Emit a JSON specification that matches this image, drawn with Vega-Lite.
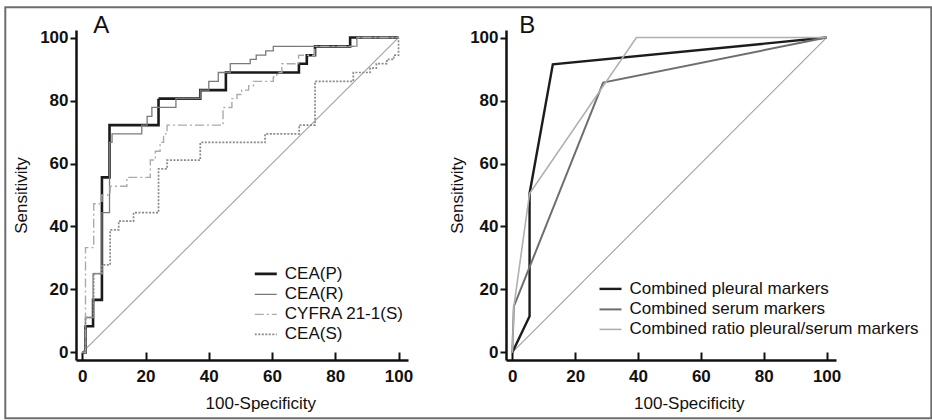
{
  "$schema": "https://vega.github.io/schema/vega-lite/v6.json",
  "background": "white",
  "padding": {"left": 4, "top": 6, "right": 0, "bottom": 0},
  "spacing": 98,
  "bounds": "flush",
  "resolve": {
    "scale": {"color": "independent", "strokeDash": "independent", "strokeWidth": "independent"},
    "legend": {"color": "independent", "strokeDash": "independent", "strokeWidth": "independent"}
  },
  "datasets": {
    "diag": [{"fpr": 0, "sens": 0}, {"fpr": 100, "sens": 100}],
    "one": [{"n": 1}],
    "rocA": [
      {"series": "CEA(P)", "fpr": 0, "sens": 0},
      {"series": "CEA(P)", "fpr": 1, "sens": 8.3},
      {"series": "CEA(P)", "fpr": 3.4, "sens": 16.7},
      {"series": "CEA(P)", "fpr": 6.2, "sens": 55.6},
      {"series": "CEA(P)", "fpr": 8.6, "sens": 72.2},
      {"series": "CEA(P)", "fpr": 24.1, "sens": 80.6},
      {"series": "CEA(P)", "fpr": 37.3, "sens": 83.3},
      {"series": "CEA(P)", "fpr": 45.4, "sens": 88.9},
      {"series": "CEA(P)", "fpr": 68.5, "sens": 91.7},
      {"series": "CEA(P)", "fpr": 71, "sens": 94.4},
      {"series": "CEA(P)", "fpr": 73.6, "sens": 97.2},
      {"series": "CEA(P)", "fpr": 84.7, "sens": 100},
      {"series": "CEA(P)", "fpr": 100, "sens": 100},
      {"series": "CEA(R)", "fpr": 0, "sens": 0},
      {"series": "CEA(R)", "fpr": 1, "sens": 11.1},
      {"series": "CEA(R)", "fpr": 3.4, "sens": 25},
      {"series": "CEA(R)", "fpr": 6.2, "sens": 44.4},
      {"series": "CEA(R)", "fpr": 8.6, "sens": 66.7},
      {"series": "CEA(R)", "fpr": 9.4, "sens": 69.4},
      {"series": "CEA(R)", "fpr": 18.8, "sens": 72.2},
      {"series": "CEA(R)", "fpr": 20.5, "sens": 75},
      {"series": "CEA(R)", "fpr": 22, "sens": 77.8},
      {"series": "CEA(R)", "fpr": 29.6, "sens": 80.6},
      {"series": "CEA(R)", "fpr": 37.3, "sens": 83.3},
      {"series": "CEA(R)", "fpr": 40, "sens": 86.1},
      {"series": "CEA(R)", "fpr": 43, "sens": 88.9},
      {"series": "CEA(R)", "fpr": 46.8, "sens": 91.7},
      {"series": "CEA(R)", "fpr": 53.1, "sens": 93.1},
      {"series": "CEA(R)", "fpr": 55, "sens": 94.4},
      {"series": "CEA(R)", "fpr": 58, "sens": 95.8},
      {"series": "CEA(R)", "fpr": 60.4, "sens": 97.2},
      {"series": "CEA(R)", "fpr": 86.8, "sens": 100},
      {"series": "CEA(R)", "fpr": 100, "sens": 100},
      {"series": "CYFRA 21-1(S)", "fpr": 0, "sens": 0},
      {"series": "CYFRA 21-1(S)", "fpr": 1, "sens": 33.3},
      {"series": "CYFRA 21-1(S)", "fpr": 3.6, "sens": 47.2},
      {"series": "CYFRA 21-1(S)", "fpr": 6.2, "sens": 50},
      {"series": "CYFRA 21-1(S)", "fpr": 8.8, "sens": 52.8},
      {"series": "CYFRA 21-1(S)", "fpr": 14.1, "sens": 55.6},
      {"series": "CYFRA 21-1(S)", "fpr": 21.5, "sens": 61.1},
      {"series": "CYFRA 21-1(S)", "fpr": 23.1, "sens": 63.9},
      {"series": "CYFRA 21-1(S)", "fpr": 24.6, "sens": 66.7},
      {"series": "CYFRA 21-1(S)", "fpr": 25.7, "sens": 69.4},
      {"series": "CYFRA 21-1(S)", "fpr": 26.8, "sens": 72.2},
      {"series": "CYFRA 21-1(S)", "fpr": 44.5, "sens": 77.8},
      {"series": "CYFRA 21-1(S)", "fpr": 47.3, "sens": 80.6},
      {"series": "CYFRA 21-1(S)", "fpr": 48.9, "sens": 81.9},
      {"series": "CYFRA 21-1(S)", "fpr": 50.4, "sens": 83.3},
      {"series": "CYFRA 21-1(S)", "fpr": 52.6, "sens": 84.7},
      {"series": "CYFRA 21-1(S)", "fpr": 54.1, "sens": 86.1},
      {"series": "CYFRA 21-1(S)", "fpr": 60.4, "sens": 87.5},
      {"series": "CYFRA 21-1(S)", "fpr": 61.5, "sens": 88.9},
      {"series": "CYFRA 21-1(S)", "fpr": 63.1, "sens": 91.7},
      {"series": "CYFRA 21-1(S)", "fpr": 68.4, "sens": 94.4},
      {"series": "CYFRA 21-1(S)", "fpr": 73.5, "sens": 97.2},
      {"series": "CYFRA 21-1(S)", "fpr": 86.8, "sens": 100},
      {"series": "CYFRA 21-1(S)", "fpr": 100, "sens": 100},
      {"series": "CEA(S)", "fpr": 0, "sens": 0},
      {"series": "CEA(S)", "fpr": 1, "sens": 11.1},
      {"series": "CEA(S)", "fpr": 3.6, "sens": 25},
      {"series": "CEA(S)", "fpr": 6.2, "sens": 27.8},
      {"series": "CEA(S)", "fpr": 8.8, "sens": 38.9},
      {"series": "CEA(S)", "fpr": 11.5, "sens": 41.7},
      {"series": "CEA(S)", "fpr": 16.2, "sens": 44.4},
      {"series": "CEA(S)", "fpr": 24.1, "sens": 58.3},
      {"series": "CEA(S)", "fpr": 26.8, "sens": 61.1},
      {"series": "CEA(S)", "fpr": 37.3, "sens": 66.7},
      {"series": "CEA(S)", "fpr": 57.8, "sens": 69.4},
      {"series": "CEA(S)", "fpr": 68.6, "sens": 72.2},
      {"series": "CEA(S)", "fpr": 73.6, "sens": 86.1},
      {"series": "CEA(S)", "fpr": 85.7, "sens": 88.9},
      {"series": "CEA(S)", "fpr": 91, "sens": 90.3},
      {"series": "CEA(S)", "fpr": 93, "sens": 91.7},
      {"series": "CEA(S)", "fpr": 96.3, "sens": 93.1},
      {"series": "CEA(S)", "fpr": 98.5, "sens": 94.4},
      {"series": "CEA(S)", "fpr": 100, "sens": 100}
    ],
    "rocB": [
      {"series": "Combined pleural markers", "k": 1, "fpr": 0, "sens": 0},
      {"series": "Combined pleural markers", "k": 2, "fpr": 5.5, "sens": 11.5},
      {"series": "Combined pleural markers", "k": 3, "fpr": 5.5, "sens": 50.5},
      {"series": "Combined pleural markers", "k": 4, "fpr": 12.9, "sens": 91.5},
      {"series": "Combined pleural markers", "k": 5, "fpr": 100, "sens": 100},
      {"series": "Combined serum markers", "k": 1, "fpr": 0, "sens": 0},
      {"series": "Combined serum markers", "k": 2, "fpr": 0.5, "sens": 14.6},
      {"series": "Combined serum markers", "k": 3, "fpr": 28.9, "sens": 85.7},
      {"series": "Combined serum markers", "k": 4, "fpr": 100, "sens": 100},
      {"series": "Combined ratio pleural/serum markers", "k": 1, "fpr": 0, "sens": 0},
      {"series": "Combined ratio pleural/serum markers", "k": 2, "fpr": 0.5, "sens": 14.6},
      {"series": "Combined ratio pleural/serum markers", "k": 3, "fpr": 5.5, "sens": 50.5},
      {"series": "Combined ratio pleural/serum markers", "k": 4, "fpr": 39.5, "sens": 100},
      {"series": "Combined ratio pleural/serum markers", "k": 5, "fpr": 100, "sens": 100}
    ]
  },
  "hconcat": [
    {
      "width": 332,
      "height": 330,
      "layer": [
        {
          "data": {"name": "one"},
          "mark": {"type": "rect", "fill": "white", "fillOpacity": 0, "stroke": "#6e6e6e", "strokeWidth": 2, "clip": false},
          "encoding": {
            "x": {"datum": -24.36, "type": "quantitative", "scale": {"domain": [-2, 103], "nice": false, "zero": false}},
            "x2": {"datum": 268.5},
            "y": {"datum": 109.61, "type": "quantitative", "scale": {"domain": [-2.4, 102.4], "nice": false, "zero": false}},
            "y2": {"datum": -20.91}
          }
        },
        {
          "data": {"name": "diag"},
          "mark": {"type": "line", "color": "#a0a0a0", "strokeWidth": 1.1},
          "encoding": {
            "x": {
              "field": "fpr", "type": "quantitative",
              "scale": {"domain": [-2, 103], "nice": false, "zero": false},
              "axis": {
                "title": "100-Specificity",
                "values": [0, 5, 10, 15, 20, 25, 30, 35, 40, 45, 50, 55, 60, 65, 70, 75, 80, 85, 90, 95, 100],
                "labelExpr": "datum.value % 20 === 0 ? datum.label : ''",
                "tickSize": {"condition": {"test": "datum.value % 20 === 0", "value": -8}, "value": -4},
                "labelPadding": 16,
                "titlePadding": 11,
                "titleX": 184.3
              }
            },
            "y": {
              "field": "sens", "type": "quantitative",
              "scale": {"domain": [-2.4, 102.4], "nice": false, "zero": false},
              "axis": {
                "title": "Sensitivity",
                "values": [0, 5, 10, 15, 20, 25, 30, 35, 40, 45, 50, 55, 60, 65, 70, 75, 80, 85, 90, 95, 100],
                "labelExpr": "datum.value % 20 === 0 ? datum.label : ''",
                "tickSize": {"condition": {"test": "datum.value % 20 === 0", "value": 6}, "value": 4},
                "labelPadding": 2,
                "titlePadding": 9
              }
            }
          }
        },
        {
          "data": {"name": "rocA"},
          "mark": {"type": "line", "interpolate": "step-after"},
          "encoding": {
            "x": {"field": "fpr", "type": "quantitative", "scale": {"domain": [-2, 103], "nice": false, "zero": false}},
            "y": {"field": "sens", "type": "quantitative", "scale": {"domain": [-2.4, 102.4], "nice": false, "zero": false}},
            "color": {
              "field": "series", "type": "nominal",
              "scale": {"domain": ["CEA(P)", "CEA(R)", "CYFRA 21-1(S)", "CEA(S)"], "range": ["#1a1a1a", "#7a7a7a", "#ababab", "#8a8a8a"]},
              "legend": {"orient": "none", "legendX": 177.3, "legendY": 231.4, "title": null}
            },
            "strokeDash": {
              "field": "series", "type": "nominal",
              "scale": {"domain": ["CEA(P)", "CEA(R)", "CYFRA 21-1(S)", "CEA(S)"], "range": [[1, 0], [1, 0], [9, 3, 2, 3], [2, 1.5]]},
              "legend": {"orient": "none", "legendX": 177.3, "legendY": 231.4, "title": null}
            },
            "strokeWidth": {
              "field": "series", "type": "nominal",
              "scale": {"type": "ordinal", "domain": ["CEA(P)", "CEA(R)", "CYFRA 21-1(S)", "CEA(S)"], "range": [2.6, 1.3, 1.4, 1.7]},
              "legend": {"orient": "none", "legendX": 177.3, "legendY": 231.4, "title": null}
            }
          }
        },
        {
          "data": {"name": "one"},
          "mark": {"type": "text", "align": "left", "baseline": "alphabetic", "fontSize": 24, "font": "Liberation Sans", "color": "#111"},
          "encoding": {
            "x": {"datum": 3.47, "type": "quantitative", "scale": {"domain": [-2, 103], "nice": false, "zero": false}},
            "y": {"datum": 101.35, "type": "quantitative", "scale": {"domain": [-2.4, 102.4], "nice": false, "zero": false}},
            "text": {"value": "A"}
          }
        }
      ]
    },
    {
      "width": 330,
      "height": 330,
      "layer": [
        {
          "data": {"name": "diag"},
          "mark": {"type": "line", "color": "#a0a0a0", "strokeWidth": 1.1},
          "encoding": {
            "x": {
              "field": "fpr", "type": "quantitative",
              "scale": {"domain": [-2, 103], "nice": false, "zero": false},
              "axis": {
                "title": "100-Specificity",
                "values": [0, 5, 10, 15, 20, 25, 30, 35, 40, 45, 50, 55, 60, 65, 70, 75, 80, 85, 90, 95, 100],
                "labelExpr": "datum.value % 20 === 0 ? datum.label : ''",
                "tickSize": {"condition": {"test": "datum.value % 20 === 0", "value": -8}, "value": -4},
                "labelPadding": 16,
                "titlePadding": 11,
                "titleX": 182.8
              }
            },
            "y": {
              "field": "sens", "type": "quantitative",
              "scale": {"domain": [-2.4, 102.4], "nice": false, "zero": false},
              "axis": {
                "title": "Sensitivity",
                "values": [0, 5, 10, 15, 20, 25, 30, 35, 40, 45, 50, 55, 60, 65, 70, 75, 80, 85, 90, 95, 100],
                "labelExpr": "datum.value % 20 === 0 ? datum.label : ''",
                "tickSize": {"condition": {"test": "datum.value % 20 === 0", "value": 6}, "value": 4},
                "labelPadding": 2,
                "titlePadding": 3
              }
            }
          }
        },
        {
          "data": {"name": "rocB"},
          "mark": {"type": "line"},
          "encoding": {
            "x": {"field": "fpr", "type": "quantitative", "scale": {"domain": [-2, 103], "nice": false, "zero": false}},
            "y": {"field": "sens", "type": "quantitative", "scale": {"domain": [-2.4, 102.4], "nice": false, "zero": false}},
            "order": {"field": "k", "type": "quantitative"},
            "color": {
              "field": "series", "type": "nominal",
              "scale": {"domain": ["Combined pleural markers", "Combined serum markers", "Combined ratio pleural/serum markers"], "range": ["#1c1c1c", "#6e6e6e", "#b0b0b0"]},
              "legend": {"orient": "none", "legendX": 92, "legendY": 246.4, "title": null}
            },
            "strokeWidth": {
              "field": "series", "type": "nominal",
              "scale": {"type": "ordinal", "domain": ["Combined pleural markers", "Combined serum markers", "Combined ratio pleural/serum markers"], "range": [2.4, 2, 1.6]},
              "legend": {"orient": "none", "legendX": 92, "legendY": 246.4, "title": null}
            }
          }
        },
        {
          "data": {"name": "one"},
          "mark": {"type": "text", "align": "left", "baseline": "alphabetic", "fontSize": 24, "font": "Liberation Sans", "color": "#111"},
          "encoding": {
            "x": {"datum": 2.24, "type": "quantitative", "scale": {"domain": [-2, 103], "nice": false, "zero": false}},
            "y": {"datum": 101.35, "type": "quantitative", "scale": {"domain": [-2.4, 102.4], "nice": false, "zero": false}},
            "text": {"value": "B"}
          }
        }
      ]
    }
  ],
  "config": {
    "view": {"stroke": null},
    "font": "Liberation Sans",
    "axis": {
      "grid": false,
      "domainColor": "#111",
      "domainWidth": 2.5,
      "tickColor": "#111",
      "tickWidth": 2,
      "labelFont": "Liberation Sans",
      "labelFontSize": 17,
      "labelFontWeight": "bold",
      "labelColor": "#111",
      "titleFont": "Liberation Sans",
      "titleFontSize": 17,
      "titleFontWeight": "normal",
      "titleColor": "#111",
      "labelOverlap": false,
      "labelFlush": false,
      "labelBound": false
    },
    "legend": {
      "symbolType": "stroke",
      "symbolSize": 484,
      "labelFont": "Liberation Sans",
      "labelFontSize": 17,
      "labelFontWeight": "normal",
      "labelColor": "#111",
      "labelOffset": 6.5,
      "rowPadding": 0,
      "padding": 0,
      "labelLimit": 400
    }
  }
}
